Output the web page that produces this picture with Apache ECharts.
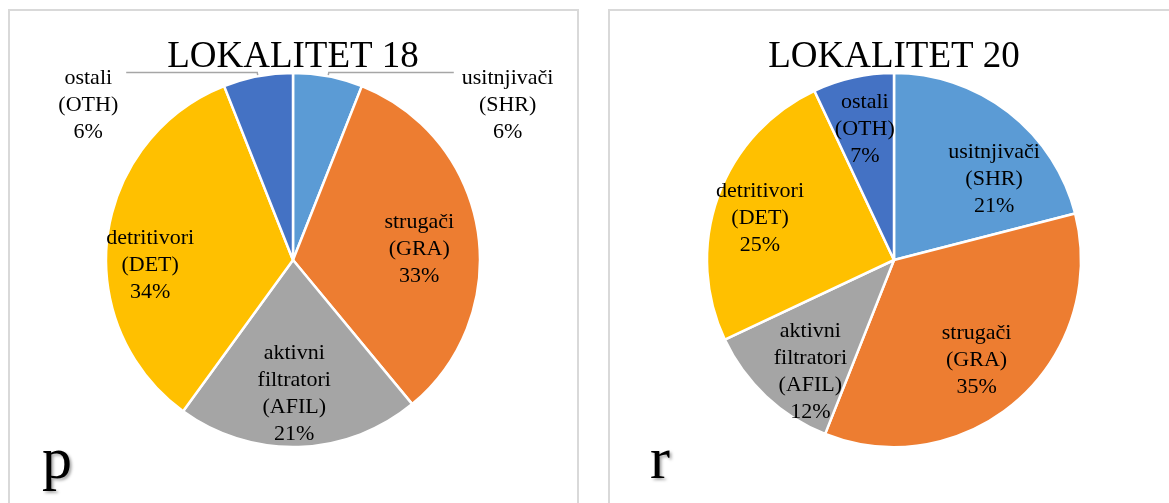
<!DOCTYPE html>
<html>
<head>
<meta charset="utf-8">
<script src="https://cdn.jsdelivr.net/npm/echarts@6/dist/echarts.min.js"></script>
<style>
    html, body { margin: 0; padding: 0; background: #fff; }
    #main { width: 1169px; height: 503px; }
</style>
</head>
<body>
<div id="main"></div>
<script>
// podaci
const groups = ['usitnjivači\n(SHR)', 'strugači\n(GRA)', 'aktivni\nfiltratori\n(AFIL)', 'detritivori\n(DET)', 'ostali\n(OTH)']
const lok18 = [6, 33, 21, 34, 6]
const lok20 = [21, 35, 12, 25, 7]
const titles = ['LOKALITET 18', 'LOKALITET 20']
const panelLetters = ['p', 'r']

const colors = ['#5B9BD5', '#ED7D31', '#A5A5A5', '#FFC000', '#4472C4']
const font = 'Liberation Serif'
const R = 187

// small nudges so the inside labels sit where Excel put them
const nudge18 = [null, [-6, 10], [-3, 0], [-10, 22], null]
const nudge20 = [[18, 25], [-6, 0], [8, 14], [-8, 4], [0, 0]]
// outside label line lengths (left chart only)
const lineLen18 = [125, 0, 0, 0, 131]

const chart = echarts.init(document.getElementById('main'))

function lines(p) {
    return p.name.split('\n').concat(p.value + '%').map(function (l) {
        return '{c|' + l + '}'
    }).join('\n')
}

const labelText = {
    color: '#000',
    fontFamily: font,
    fontSize: 22,
    lineHeight: 27,
    formatter: lines,
    rich: { c: { fontFamily: font, fontSize: 22, lineHeight: 27, align: 'center', color: '#000' } }
}

// main pie + transparent ring that carries inside labels at ~0.7R
function pies(cx, values, outsideSmall, nudge) {
    const main = {
        type: 'pie',
        center: [cx, 260],
        radius: [0, R],
        startAngle: 90,
        avoidLabelOverlap: false,
        animation: false,
        silent: true,
        itemStyle: { borderColor: '#fff', borderWidth: 2.5 },
        label: Object.assign({}, labelText, { show: false, position: 'outside', padding: [66, 0, 0, 0], distanceToLabelLine: 8 }),
        labelLine: { show: false, length: 4, length2: 112, lineStyle: { color: '#a6a6a6', width: 1.5 } },
        data: values.map(function (v, i) {
            const d = { name: groups[i], value: v, itemStyle: { color: colors[i] } }
            if (outsideSmall && v < 10) {
                d.label = { show: true }
                d.labelLine = { show: true, length2: lineLen18[i] }
            }
            return d
        })
    }
    const ring = {
        type: 'pie',
        center: [cx, 260],
        radius: [0.4 * R, R],
        startAngle: 90,
        avoidLabelOverlap: false,
        animation: false,
        silent: true,
        z: 3,
        itemStyle: { color: 'rgba(0,0,0,0)', borderWidth: 0 },
        label: Object.assign({}, labelText, { show: true, position: 'inside' }),
        labelLine: { show: false },
        data: values.map(function (v, i) {
            const d = { name: groups[i], value: v }
            if (outsideSmall && v < 10) d.label = { show: false }
            else if (nudge[i]) d.label = { offset: nudge[i] }
            return d
        })
    }
    return [main, ring]
}

const centers = [293, 894]

const graphic = [
    { type: 'rect', shape: { x: 9, y: 10, width: 569, height: 520 }, style: { fill: 'none', stroke: '#d9d9d9', lineWidth: 2 } },
    { type: 'rect', shape: { x: 609, y: 10, width: 600, height: 520 }, style: { fill: 'none', stroke: '#d9d9d9', lineWidth: 2 } }
]
titles.forEach(function (t, i) {
    graphic.push({
        type: 'text', x: centers[i], y: 57,
        style: { text: t, fill: '#000', font: '37px "' + font + '"', align: 'center', verticalAlign: 'middle' }
    })
})
panelLetters.forEach(function (t, i) {
    graphic.push({
        type: 'text', x: [42, 650][i], y: 492,
        style: {
            text: t, fill: '#000', font: '60px "' + font + '"', align: 'left', verticalAlign: 'bottom',
            textShadowColor: 'rgba(0,0,0,0.35)', textShadowBlur: 3, textShadowOffsetX: 2, textShadowOffsetY: 2
        }
    })
})

const option = {
    backgroundColor: '#fff',
    animation: false,
    graphic: graphic,
    series: pies(centers[0], lok18, true, nudge18).concat(pies(centers[1], lok20, false, nudge20))
}

chart.setOption(option)
</script>
</body>
</html>
